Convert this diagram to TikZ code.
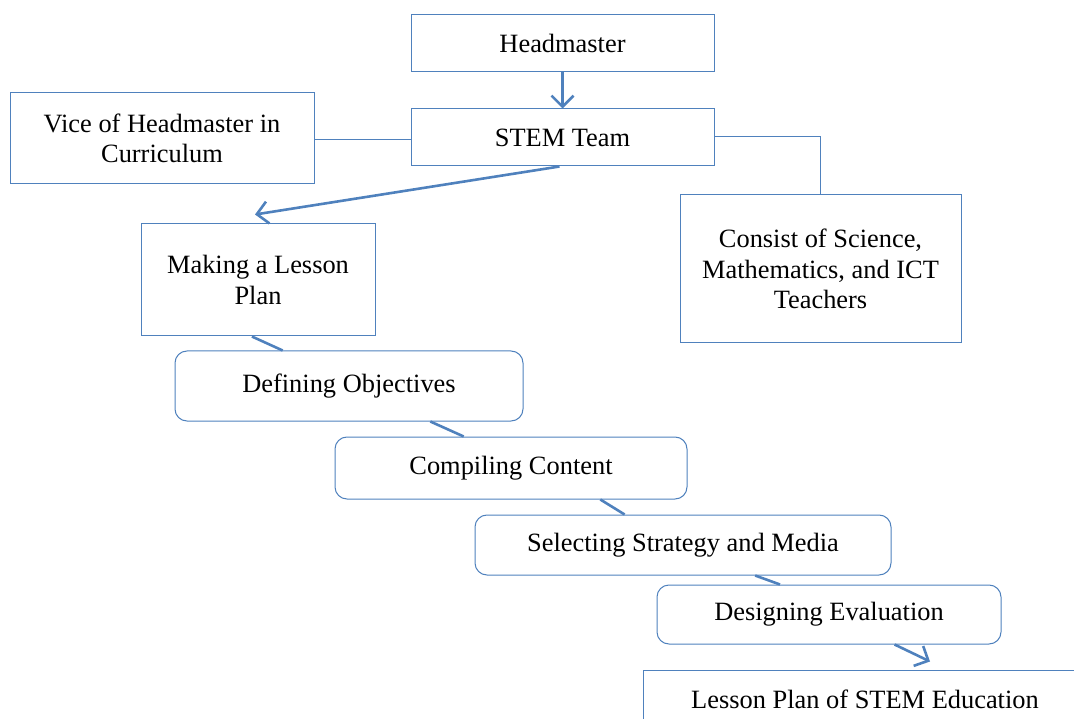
\documentclass[tikz,border=0pt]{standalone}
\usepackage{fontspec}
\setmainfont{Liberation Serif}
\usetikzlibrary{arrows.meta,calc}
\definecolor{wblue}{HTML}{4F81BD}
\tikzset{
  box/.style={draw=wblue, line width=1pt, inner sep=0pt, align=center, font=\fontsize{26.4}{30.5}\selectfont},
  rbox/.style={box, rounded corners=12pt},
  thick link/.style={draw=wblue, line width=2.6pt},
  thin link/.style={draw=wblue, line width=1.4pt},
  barb/.style={-{Straight Barb[length=11pt,width=22pt,line width=2.6pt]}},
}
\begin{document}
\begin{tikzpicture}[x=1pt,y=-1pt]
\useasboundingbox (0,0) rectangle (1074,719);
\clip (0,0) rectangle (1074,719);
% nodes (centre, width, height from reference pixels)
\node[box, minimum width=303pt, minimum height=57pt] (head) at (562.5,43.5) {Headmaster};
\node[box, minimum width=303pt, minimum height=57pt] (stem) at (562.5,137.5) {STEM Team};
\node[box, minimum width=304pt, minimum height=91pt] (vice) at (162,138.5) {Vice of Headmaster in\\Curriculum};
\node[box, minimum width=281pt, minimum height=148pt] (consist) at (820.5,269) {Consist of Science,\\Mathematics, and ICT\\Teachers};
\node[box, minimum width=234pt, minimum height=112pt] (making) at (258,280) {Making a Lesson\\Plan};
\node[rbox, minimum width=348pt, minimum height=70pt] (defining) at (349,386) {Defining Objectives};
\node[rbox, minimum width=352pt, minimum height=62pt] (compiling) at (511,468) {Compiling Content};
\node[rbox, minimum width=416pt, minimum height=60pt] (selecting) at (683,545) {Selecting Strategy and Media};
\node[rbox, minimum width=344pt, minimum height=59pt] (designing) at (829,614.5) {Designing Evaluation};
\node[box, minimum width=444pt, minimum height=58pt] (result) at (865,699) {Lesson Plan of STEM Education};
% connectors
\draw[thick link, barb] (head.south) -- (stem.north);
\draw[thin link] ([yshift=-1pt]vice.east) -- ([yshift=-1pt]vice.east -| stem.west);
\draw[draw=wblue, line width=1pt] ($(stem.north east)!0.49!(stem.south east)$) -| (consist.north);
\coordinate (mkTop) at ([shift={(-3pt,9pt)}]making.north);
\draw[thick link, barb] ([xshift=-3pt]stem.south) -- (mkTop);
\draw[thick link] ($(making.south west)!0.474!(making.south east)$) -- ($(defining.north west)!0.31!(defining.north east)$);
\draw[thick link] ($(defining.south west)!0.733!(defining.south east)$) -- ($(compiling.north west)!0.366!(compiling.north east)$);
\draw[thick link] ($(compiling.south west)!0.753!(compiling.south east)$) -- ($(selecting.north west)!0.36!(selecting.north east)$);
\draw[thick link] ($(selecting.south west)!0.673!(selecting.south east)$) -- ($(designing.north west)!0.358!(designing.north east)$);
\coordinate (resTop) at ([shift={(65pt,8pt)}]result.north);
\draw[thick link, barb] ($(designing.south west)!0.69!(designing.south east)$) -- (resTop);
\end{tikzpicture}
\end{document}
